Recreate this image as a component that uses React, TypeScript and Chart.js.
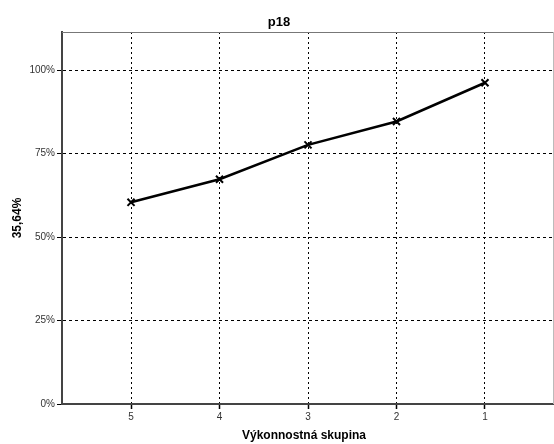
import React, { useEffect, useRef } from "react";
import { Chart, registerables } from "chart.js";

Chart.register(...registerables);

const groups = [5, 4, 3, 2, 1];
const values = [60.4, 67.3, 77.6, 84.6, 96.2];
const yTicks = [0, 25, 50, 75, 100];
const titleText = "p18";
const yTitle = "35,64%";
const xTitle = "Výkonnostná skupina";

const FONT = "'Liberation Sans', Arial, sans-serif";

const textPlugin = {
  id: "texts",
  afterDraw(chart: any) {
    const { ctx, chartArea } = chart;
    const { left, right, top, bottom } = chartArea;
    ctx.save();
    ctx.lineWidth = 1;
    ctx.strokeStyle = "#777";
    ctx.beginPath();
    ctx.moveTo(left, top + 0.5);
    ctx.lineTo(right, top + 0.5);
    ctx.stroke();
    ctx.strokeStyle = "#bbb";
    ctx.beginPath();
    ctx.moveTo(right - 0.5, top);
    ctx.lineTo(right - 0.5, bottom);
    ctx.stroke();

    ctx.fillStyle = "#000";
    ctx.textAlign = "center";
    ctx.textBaseline = "alphabetic";
    ctx.font = `bold 13px ${FONT}`;
    ctx.fillText(titleText, chart.width / 2 + 2, 26);
    ctx.textBaseline = "middle";
    ctx.font = `bold 12px ${FONT}`;
    ctx.fillText(xTitle, 304, 436);
    ctx.translate(18, (top + bottom) / 2);
    ctx.rotate(-Math.PI / 2);
    ctx.fillText(yTitle, 0, 0);
    ctx.restore();
  },
};

export default function App() {
  const ref = useRef<HTMLCanvasElement>(null);
  useEffect(() => {
    document.body.style.margin = "0";
    const chart = new Chart(ref.current!, {
      type: "line",
      data: {
        datasets: [
          {
            data: groups.map((g, i) => ({ x: g, y: values[i] })),
            borderColor: "#000",
            backgroundColor: "#000",
            borderWidth: 2.5,
            pointStyle: "crossRot",
            pointRadius: 5,
            pointBorderWidth: 2,
            pointBorderColor: "#000",
            fill: false,
            tension: 0,
          },
        ],
      },
      options: {
        animation: false,
        responsive: false,
        layout: { autoPadding: false, padding: { top: 32, right: 0, left: 0, bottom: 0 } },
        plugins: { legend: { display: false }, title: { display: false }, tooltip: { enabled: false } },
        scales: {
          x: {
            type: "linear",
            reverse: true,
            min: 0.22,
            max: 5.78,
            afterBuildTicks: (s: any) => {
              s.ticks = groups.map((v) => ({ value: v }));
            },
            afterFit: (s: any) => {
              s.height = 40;
              s.paddingLeft = 0;
              s.paddingRight = 0;
            },
            ticks: {
              autoSkip: false,
              maxRotation: 0,
              padding: 2,
              color: "#333",
              font: { family: FONT, size: 10 },
              callback: (v: any) => String(v),
            },
            grid: {
              color: "#000",
              lineWidth: 1,
              tickLength: 5,
              tickColor: "#000",
              tickWidth: 1.5,
              tickBorderDash: [],
            },
            border: { display: true, color: "#444", width: 2, dash: [2, 3] },
          },
          y: {
            min: 0,
            max: 111.4,
            afterBuildTicks: (s: any) => {
              s.ticks = yTicks.map((v) => ({ value: v }));
            },
            afterFit: (s: any) => {
              s.width = 62;
              s.paddingTop = 0;
              s.paddingBottom = 0;
            },
            ticks: {
              padding: 2,
              color: "#333",
              font: { family: FONT, size: 10 },
              callback: (v: any) => v + "%",
            },
            grid: {
              color: (c: any) => (c.tick && c.tick.value === 0 ? "rgba(0,0,0,0)" : "#000"),
              lineWidth: 1,
              tickLength: 5,
              tickColor: "#000",
              tickWidth: 1,
              tickBorderDash: [],
            },
            border: { display: true, color: "#444", width: 2, dash: [3, 3] },
          },
        },
      },
      plugins: [textPlugin],
    } as any);
    return () => chart.destroy();
  }, []);
  return (
    <div style={{ width: 554, height: 444, background: "#fff" }}>
      <canvas ref={ref} width={554} height={444} style={{ display: "block" }} />
    </div>
  );
}
